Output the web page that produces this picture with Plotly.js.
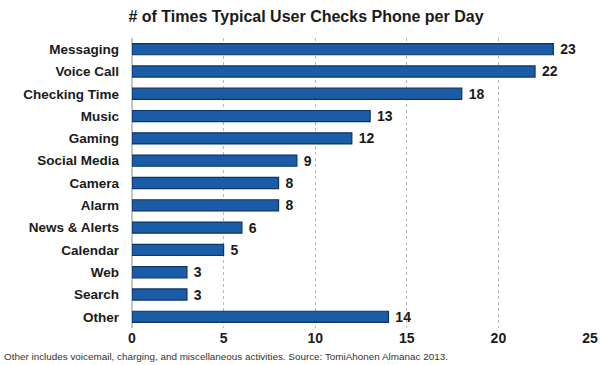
<!DOCTYPE html>
<html>
<head>
<meta charset="utf-8">
<script src="https://cdn.plot.ly/plotly-3.0.1.min.js"></script>
<style>html,body{margin:0;padding:0;background:#fff;}#chart{width:600px;height:365px;}</style>
</head>
<body>
<div id="chart"></div>
<script>
const categories = ["Messaging","Voice Call","Checking Time","Music","Gaming","Social Media","Camera","Alarm","News & Alerts","Calendar","Web","Search","Other"];
const values = [23,22,18,13,12,9,8,8,6,5,3,3,14];
const xTicks = [0,5,10,15,20,25];
const titleText = "# of Times Typical User Checks Phone per Day";
const footnote = "Other includes voicemail, charging, and miscellaneous activities. Source: TomiAhonen Almanac 2013.";

const FONT = "Liberation Sans, Arial, Helvetica, sans-serif";

const trace = {
  type: "bar",
  orientation: "h",
  y: categories,
  x: values,
  texttemplate: "\u00a0%{x}",
  textposition: "outside",
  constraintext: "none",
  cliponaxis: false,
  textfont: {family: FONT, size: 14, color: "#1a1a1a", weight: "bold"},
  marker: {color: "#1b5ca6", line: {color: "#0c3468", width: 1.2}},
  width: 0.5,
  hoverinfo: "none"
};

const layout = {
  width: 600, height: 365,
  margin: {l: 131.5, r: 10, t: 38, b: 37, pad: 0},
  paper_bgcolor: "#ffffff",
  plot_bgcolor: "#ffffff",
  showlegend: false,
  title: {text: "<b>" + titleText + "</b>", font: {family: FONT, size: 16, color: "#1a1a1a"}, x: 0.51, xanchor: "center", y: 0.955, yanchor: "middle"},
  xaxis: {
    range: [0, 25],
    tickvals: xTicks,
    ticktext: xTicks.map(String),
    showgrid: true, gridcolor: "#b8b8b8", griddash: "dot", gridwidth: 1,
    zeroline: true, zerolinecolor: "#c4c4c4", zerolinewidth: 1.5,
    showline: false,
    ticks: "",
    tickfont: {family: FONT, size: 14, color: "#1a1a1a", weight: "bold"},
    fixedrange: true
  },
  yaxis: {
    autorange: "reversed",
    showgrid: false, zeroline: false, showline: false,
    ticks: "",
    ticklabelstandoff: 12,
    tickfont: {family: FONT, size: 13.5, color: "#1a1a1a", weight: "bold"},
    fixedrange: true
  },
  annotations: [{
    text: footnote, xref: "paper", yref: "paper",
    x: -0.283, xanchor: "left", y: -0.097, yanchor: "middle",
    showarrow: false, font: {family: FONT, size: 9.9, color: "#333333"}
  }]
};

Plotly.newPlot("chart", [trace], layout, {staticPlot: true, displayModeBar: false});
</script>
</body>
</html>
